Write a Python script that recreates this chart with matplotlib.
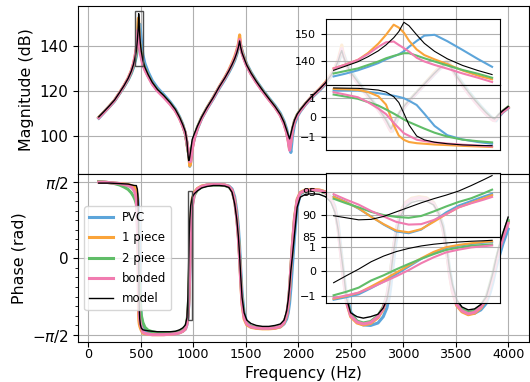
import numpy as np
import matplotlib
matplotlib.use('Agg')
import matplotlib.pyplot as plt
from matplotlib.patches import Rectangle
from matplotlib.ticker import MultipleLocator

# ---------------- data ----------------
freq = [100, 150, 200, 250, 300, 340, 380, 410, 430, 445,
        458, 468, 474, 478, 480, 482, 486, 490, 496, 505,
        520, 540, 570, 610, 660, 720, 780, 830, 870, 900,
        925, 940, 950, 957, 962, 967, 975, 990, 1010, 1040,
        1080, 1130, 1190, 1250, 1300, 1340, 1370, 1395, 1415, 1430,
        1442, 1452, 1465, 1485, 1510, 1550, 1600, 1660, 1720, 1780,
        1830, 1865, 1890, 1905, 1918, 1930, 1945, 1965, 1990, 2020,
        2070, 2130, 2200, 2260, 2310, 2350, 2380, 2400, 2415, 2430,
        2460, 2500, 2560, 2620, 2690, 2760, 2810, 2845, 2870, 2884,
        2900, 2930, 2970, 3020, 3080, 3150, 3220, 3290, 3340, 3380,
        3410, 3425, 3440, 3470, 3510, 3560, 3620, 3680, 3740, 3790,
        3830, 3855, 3870, 3885, 3910, 3950, 4000]

mag_pvc = [107.8, 110.3, 112.8, 115.4, 118.9, 121.8, 124.9, 127.8, 130.4, 133.0,
           135.4, 138.5, 141.0, 142.5, 143.6, 145.3, 148.2, 149.8, 148.0, 142.8,
           136.2, 132.2, 128.5, 124.6, 121.3, 118.3, 115.1, 111.9, 108.4, 105.1,
           101.2, 96.8, 93.8, 91.6, 89.3, 86.3, 88.0, 94.6, 98.5, 103.0,
           107.6, 111.8, 116.4, 121.3, 125.0, 128.3, 131.0, 133.6, 136.3, 138.9,
           141.5, 140.5, 138.0, 135.2, 132.0, 128.4, 124.6, 120.6, 116.9, 113.4,
           110.0, 106.5, 103.0, 99.8, 96.0, 92.5, 99.5, 105.0, 108.4, 110.8,
           113.9, 117.0, 120.1, 123.0, 126.2, 129.2, 132.2, 134.8, 136.5, 137.0,
           133.0, 129.2, 125.0, 121.2, 116.8, 112.6, 109.2, 106.6, 104.3, 103.0,
           102.0, 105.5, 109.5, 113.0, 116.4, 120.0, 123.5, 127.0, 129.4, 131.0,
           132.0, 132.5, 132.2, 130.2, 127.2, 123.8, 120.0, 116.5, 113.2, 110.7,
           108.8, 107.8, 107.2, 106.6, 108.4, 110.5, 112.3]
mag_1piece = [108.2, 110.6, 113.1, 115.8, 119.3, 122.3, 125.7, 129.0, 132.0, 135.3,
              138.8, 144.5, 150.8, 152.5, 150.6, 147.6, 143.5, 141.6, 139.1, 135.9,
              132.5, 129.8, 126.8, 123.3, 120.2, 117.4, 114.3, 111.2, 107.8, 104.5,
              101.0, 96.5, 93.5, 91.8, 89.0, 86.5, 87.8, 94.3, 99.0, 103.5,
              108.0, 112.3, 117.0, 122.0, 125.9, 129.4, 132.5, 135.3, 138.2, 141.0,
              145.0, 140.5, 137.4, 134.6, 131.4, 127.8, 124.0, 120.0, 116.3, 112.7,
              109.2, 105.5, 101.5, 98.0, 94.0, 97.5, 102.5, 106.5, 109.2, 111.3,
              114.3, 117.5, 120.7, 123.8, 127.2, 130.6, 134.0, 137.5, 140.5, 136.5,
              131.8, 128.0, 124.0, 120.3, 116.0, 111.8, 108.4, 105.5, 103.0, 101.8,
              103.8, 107.2, 110.5, 113.6, 116.9, 120.5, 124.1, 127.8, 130.3, 132.0,
              133.2, 133.5, 132.3, 129.6, 126.3, 122.8, 119.0, 115.5, 112.2, 109.7,
              107.9, 107.0, 106.7, 107.5, 109.0, 110.8, 112.6]
mag_2piece = [108.1, 110.6, 113.1, 115.7, 119.1, 122.0, 125.2, 128.3, 131.0, 133.7,
              136.8, 139.2, 141.4, 142.4, 142.9, 142.9, 141.6, 140.4, 138.6, 136.2,
              132.5, 129.8, 126.8, 123.4, 120.3, 117.5, 114.4, 111.3, 107.9, 104.7,
              100.8, 96.5, 93.5, 91.8, 90.4, 89.5, 90.4, 95.5, 99.5, 103.8,
              108.1, 112.3, 116.9, 121.8, 125.5, 128.8, 131.6, 134.2, 137.0, 139.6,
              142.0, 140.0, 137.2, 134.3, 131.3, 127.8, 124.1, 120.1, 116.4, 112.8,
              109.3, 105.6, 101.8, 98.5, 94.5, 97.8, 102.8, 106.6, 109.3, 111.4,
              114.3, 117.4, 120.5, 123.4, 126.6, 129.7, 132.9, 135.8, 137.5, 136.0,
              131.8, 128.2, 124.3, 120.6, 116.3, 112.1, 108.7, 105.9, 103.6, 102.5,
              104.3, 107.4, 110.6, 113.7, 116.9, 120.4, 123.9, 127.4, 129.7, 131.2,
              132.1, 132.5, 131.8, 129.4, 126.4, 123.1, 119.4, 115.9, 112.6, 110.1,
              108.3, 107.5, 107.1, 107.8, 109.3, 111.0, 112.8]
mag_bonded = [108.0, 110.5, 113.0, 115.7, 119.2, 122.2, 125.5, 128.8, 131.9, 135.2,
              139.1, 144.0, 147.2, 146.0, 144.8, 143.5, 140.7, 139.1, 136.6, 134.8,
              131.6, 129.2, 126.4, 123.0, 119.9, 117.1, 114.0, 111.0, 107.6, 104.3,
              101.0, 96.8, 94.0, 92.4, 90.4, 88.4, 88.5, 93.9, 98.8, 103.4,
              107.8, 112.1, 116.8, 121.8, 125.6, 129.0, 131.9, 134.6, 137.5, 140.2,
              143.0, 139.6, 136.8, 134.0, 131.0, 127.5, 123.8, 119.8, 116.1, 112.6,
              109.0, 105.2, 101.3, 97.5, 93.5, 97.0, 102.3, 106.3, 109.0, 111.2,
              114.2, 117.4, 120.5, 123.5, 126.8, 130.0, 133.4, 136.6, 139.0, 135.8,
              131.3, 127.6, 123.7, 120.0, 115.8, 111.6, 108.2, 105.3, 103.0, 102.0,
              103.8, 107.0, 110.3, 113.4, 116.6, 120.2, 123.7, 127.3, 129.7, 131.4,
              132.5, 132.8, 131.8, 129.2, 126.0, 122.6, 118.8, 115.3, 112.0, 109.5,
              107.7, 106.9, 106.7, 107.5, 109.0, 110.8, 112.5]
mag_model = [108.4, 110.8, 113.3, 115.9, 119.4, 122.3, 125.6, 128.8, 131.7, 134.8,
             137.8, 142.8, 146.7, 151.0, 154.5, 153.2, 148.8, 145.0, 141.3, 137.7,
             133.7, 130.5, 127.3, 123.8, 120.6, 117.9, 114.8, 111.7, 108.2, 105.0,
             101.8, 97.5, 91.5, 88.9, 89.2, 90.6, 93.2, 98.3, 100.8, 104.3,
             108.3, 112.5, 117.0, 122.0, 125.7, 129.0, 131.8, 134.4, 137.0, 139.5,
             142.3, 139.5, 137.0, 134.5, 131.5, 128.0, 124.3, 120.3, 116.6, 113.0,
             109.5, 106.0, 102.5, 100.3, 98.6, 100.8, 103.8, 107.0, 109.6, 111.6,
             114.5, 117.6, 120.7, 123.6, 126.8, 130.0, 133.2, 136.3, 138.0, 135.5,
             131.8, 128.3, 124.5, 120.8, 116.5, 112.3, 109.0, 106.3, 104.0, 103.0,
             104.5, 107.6, 110.8, 113.8, 117.0, 120.5, 124.0, 127.5, 129.8, 131.3,
             132.3, 132.6, 131.8, 129.5, 126.5, 123.2, 119.5, 116.0, 112.8, 110.3,
             108.6, 107.8, 107.5, 108.2, 109.5, 111.2, 113.0]

ph_pvc = [1.58, 1.57, 1.56, 1.55, 1.54, 1.52, 1.50, 1.47, 1.43, 1.39,
          1.37, 1.30, 1.18, 1.05, 0.98, 0.85, 0.50, -0.05, -0.85, -1.20,
          -1.41, -1.48, -1.53, -1.55, -1.56, -1.56, -1.56, -1.55, -1.53, -1.50,
          -1.46, -1.37, -1.20, -0.97, -0.70, -0.28, 0.38, 1.19, 1.35, 1.43,
          1.48, 1.51, 1.52, 1.52, 1.51, 1.49, 1.43, 1.27, 0.98, 0.65,
          0.25, -0.20, -0.70, -1.12, -1.32, -1.40, -1.43, -1.44, -1.44, -1.43,
          -1.41, -1.35, -1.25, -1.12, -0.92, -0.62, -0.15, 0.45, 1.05, 1.32,
          1.40, 1.41, 1.40, 1.37, 1.27, 1.07, 0.75, 0.35, 0.05, -0.25,
          -0.75, -1.10, -1.30, -1.37, -1.38, -1.33, -1.20, -1.02, -0.78, -0.55,
          -0.25, 0.30, 0.80, 1.10, 1.22, 1.26, 1.24, 1.15, 0.95, 0.68,
          0.32, 0.08, -0.18, -0.55, -0.88, -1.05, -1.13, -1.13, -1.06, -0.93,
          -0.70, -0.50, -0.35, -0.20, 0.00, 0.30, 0.60]
ph_1piece = [1.58, 1.57, 1.56, 1.55, 1.54, 1.53, 1.52, 1.50, 1.48, 1.46,
             1.43, 1.20, 0.40, -0.95, -1.17, -1.28, -1.35, -1.39, -1.43, -1.48,
             -1.54, -1.55, -1.56, -1.57, -1.57, -1.57, -1.56, -1.55, -1.53, -1.50,
             -1.45, -1.33, -1.15, -0.90, -0.55, -0.05, 0.70, 1.22, 1.36, 1.44,
             1.49, 1.51, 1.52, 1.52, 1.51, 1.48, 1.40, 1.20, 0.85, 0.45,
             0.00, -0.45, -0.95, -1.25, -1.37, -1.42, -1.44, -1.45, -1.45, -1.44,
             -1.41, -1.33, -1.18, -0.98, -0.65, -0.20, 0.30, 0.85, 1.22, 1.36,
             1.41, 1.42, 1.41, 1.37, 1.25, 1.02, 0.62, 0.20, -0.10, -0.40,
             -0.90, -1.20, -1.33, -1.37, -1.34, -1.22, -1.05, -0.80, -0.45, -0.20,
             0.10, 0.55, 0.95, 1.15, 1.24, 1.27, 1.25, 1.15, 0.92, 0.60,
             0.20, -0.05, -0.32, -0.70, -0.97, -1.10, -1.16, -1.13, -1.02, -0.85,
             -0.55, -0.35, -0.20, -0.05, 0.15, 0.45, 0.75]
ph_2piece = [1.58, 1.57, 1.56, 1.54, 1.51, 1.47, 1.42, 1.35, 1.28, 1.21,
             1.12, 0.72, 0.36, 0.04, -0.12, -0.25, -0.50, -0.73, -0.98, -1.17,
             -1.32, -1.42, -1.48, -1.51, -1.53, -1.53, -1.53, -1.52, -1.50, -1.47,
             -1.42, -1.30, -1.10, -0.80, -0.43, -0.05, 0.50, 1.09, 1.30, 1.41,
             1.47, 1.50, 1.51, 1.51, 1.50, 1.47, 1.39, 1.18, 0.84, 0.47,
             0.05, -0.38, -0.85, -1.18, -1.33, -1.40, -1.42, -1.43, -1.43, -1.42,
             -1.39, -1.31, -1.15, -0.95, -0.62, -0.22, 0.25, 0.80, 1.18, 1.34,
             1.39, 1.40, 1.39, 1.35, 1.23, 1.00, 0.62, 0.22, -0.06, -0.35,
             -0.85, -1.15, -1.29, -1.33, -1.30, -1.18, -1.00, -0.75, -0.42, -0.17,
             0.12, 0.55, 0.93, 1.13, 1.22, 1.25, 1.23, 1.13, 0.90, 0.60,
             0.23, 0.00, -0.27, -0.63, -0.92, -1.05, -1.11, -1.08, -0.97, -0.80,
             -0.50, -0.30, -0.16, -0.02, 0.18, 0.48, 0.78]
ph_bonded = [1.57, 1.57, 1.56, 1.55, 1.54, 1.52, 1.50, 1.47, 1.42, 1.35,
             1.20, 0.60, 0.16, -0.56, -0.83, -0.96, -1.19, -1.26, -1.34, -1.42,
             -1.52, -1.54, -1.56, -1.57, -1.57, -1.57, -1.56, -1.55, -1.53, -1.50,
             -1.45, -1.35, -1.18, -0.95, -0.65, -0.25, 0.45, 1.05, 1.33, 1.43,
             1.48, 1.51, 1.52, 1.52, 1.51, 1.48, 1.40, 1.18, 0.82, 0.42,
             -0.02, -0.45, -0.92, -1.22, -1.35, -1.41, -1.43, -1.44, -1.44, -1.43,
             -1.40, -1.32, -1.16, -0.95, -0.62, -0.20, 0.28, 0.82, 1.20, 1.35,
             1.40, 1.41, 1.40, 1.36, 1.24, 1.00, 0.60, 0.18, -0.12, -0.42,
             -0.90, -1.18, -1.31, -1.35, -1.32, -1.20, -1.03, -0.78, -0.45, -0.20,
             0.10, 0.53, 0.92, 1.13, 1.22, 1.25, 1.23, 1.13, 0.90, 0.58,
             0.20, -0.05, -0.32, -0.68, -0.95, -1.08, -1.14, -1.11, -1.00, -0.83,
             -0.55, -0.36, -0.22, -0.07, 0.13, 0.42, 0.72]
ph_model = [1.55, 1.55, 1.55, 1.545, 1.54, 1.535, 1.53, 1.515, 1.505, 1.50,
            1.50, 1.42, 1.24, 0.76, 0.20, -0.40, -1.04, -1.24, -1.36, -1.435,
            -1.47, -1.48, -1.49, -1.50, -1.51, -1.51, -1.51, -1.50, -1.47, -1.43,
            -1.37, -1.22, -0.75, 0.00, 0.49, 0.80, 1.08, 1.26, 1.33, 1.39,
            1.45, 1.48, 1.50, 1.50, 1.49, 1.46, 1.36, 1.12, 0.80, 0.45,
            0.05, -0.35, -0.80, -1.12, -1.27, -1.34, -1.38, -1.40, -1.40, -1.38,
            -1.35, -1.27, -1.08, -0.85, -0.57, -0.25, 0.05, 0.50, 1.05, 1.26,
            1.32, 1.33, 1.32, 1.27, 1.16, 0.95, 0.60, 0.25, 0.00, -0.25,
            -0.82, -1.12, -1.20, -1.23, -1.20, -1.15, -1.02, -0.85, -0.55, -0.30,
            0.00, 0.45, 0.85, 1.05, 1.15, 1.19, 1.18, 1.10, 0.92, 0.65,
            0.30, 0.05, -0.20, -0.55, -0.85, -1.00, -1.06, -1.04, -0.95, -0.80,
            -0.50, -0.30, -0.15, 0.00, 0.22, 0.52, 0.85]

# zoom around the first resonance
z1_freq = [452.5, 457, 462, 466, 470, 473, 476, 478, 480, 482, 485, 488, 492, 497, 503, 509, 514.5]
z1_mag_pvc = [134.2, 135.2, 136.5, 137.8, 139.2, 140.6, 141.7, 142.5, 143.6, 145.3, 147.5, 149.5, 149.8, 147.4, 144.1, 140.7, 137.8]
z1_mag_1piece = [137.2, 138.6, 140.4, 143.0, 146.5, 149.8, 153.6, 152.5, 150.6, 147.6, 144.3, 142.2, 140.6, 138.8, 136.4, 134.5, 133.1]
z1_mag_2piece = [135.3, 136.2, 137.2, 138.5, 139.8, 141.0, 141.9, 142.4, 142.9, 142.9, 142.0, 141.0, 139.8, 138.3, 136.6, 135.2, 133.7]
z1_mag_bonded = [137.2, 138.6, 140.4, 142.6, 145.3, 147.0, 147.3, 146.0, 144.8, 143.5, 141.2, 139.8, 138.5, 137.1, 135.3, 133.7, 132.1]
z1_mag_model = [136.5, 138.0, 139.7, 141.6, 143.8, 146.0, 148.7, 151.0, 154.5, 153.2, 149.8, 146.6, 143.6, 140.8, 138.3, 136.4, 134.9]
z1_ph_pvc = [1.37, 1.37, 1.37, 1.31, 1.24, 1.18, 1.11, 1.05, 0.98, 0.85, 0.63, 0.18, -0.45, -0.93, -1.15, -1.28, -1.37]
z1_ph_1piece = [1.46, 1.44, 1.41, 1.30, 1.08, 0.65, -0.40, -0.95, -1.17, -1.28, -1.34, -1.37, -1.41, -1.44, -1.48, -1.51, -1.54]
z1_ph_2piece = [1.17, 1.07, 0.95, 0.78, 0.60, 0.40, 0.19, 0.04, -0.12, -0.25, -0.42, -0.59, -0.80, -1.00, -1.16, -1.24, -1.30]
z1_ph_bonded = [1.29, 1.17, 1.03, 0.77, 0.45, 0.16, -0.29, -0.56, -0.83, -0.96, -1.16, -1.23, -1.30, -1.36, -1.42, -1.46, -1.51]
z1_ph_model = [1.51, 1.50, 1.49, 1.45, 1.40, 1.30, 1.06, 0.76, 0.20, -0.40, -0.97, -1.17, -1.29, -1.37, -1.43, -1.46, -1.47]

# zoom around the first anti-resonance
z2_freq = [952, 955, 958, 961, 964, 967, 970, 973, 976, 979, 982, 985, 988, 990]
z2_mag_pvc = [94.0, 92.8, 91.3, 89.6, 87.8, 86.3, 85.9, 86.7, 88.6, 90.5, 92.0, 93.0, 94.0, 94.6]
z2_mag_1piece = [93.9, 92.7, 91.4, 89.5, 87.9, 86.5, 86.1, 86.8, 88.4, 90.1, 91.6, 92.6, 93.6, 94.3]
z2_mag_2piece = [93.5, 92.5, 91.6, 90.6, 89.9, 89.5, 89.3, 89.7, 90.7, 91.8, 92.8, 93.6, 94.7, 95.5]
z2_mag_bonded = [94.5, 93.3, 92.2, 90.8, 89.6, 88.4, 87.8, 87.9, 88.8, 90.1, 91.6, 92.5, 93.3, 93.9]
z2_mag_model = [89.75, 89.3, 88.85, 88.95, 89.6, 90.6, 91.6, 92.6, 93.5, 94.3, 95.2, 96.4, 97.7, 98.6]
z2_ph_pvc = [-1.15, -1.05, -0.93, -0.68, -0.41, -0.12, 0.19, 0.50, 0.76, 0.95, 1.04, 1.11, 1.16, 1.19]
z2_ph_1piece = [-1.11, -1.00, -0.87, -0.61, -0.34, -0.05, 0.24, 0.53, 0.79, 0.98, 1.07, 1.14, 1.19, 1.22]
z2_ph_2piece = [-0.97, -0.83, -0.66, -0.37, -0.16, 0.08, 0.30, 0.51, 0.70, 0.87, 0.96, 1.04, 1.07, 1.09]
z2_ph_bonded = [-1.08, -0.98, -0.86, -0.66, -0.43, -0.20, 0.05, 0.33, 0.57, 0.77, 0.88, 0.97, 1.02, 1.05]
z2_ph_model = [-0.46, -0.18, 0.09, 0.39, 0.62, 0.80, 0.93, 1.03, 1.10, 1.15, 1.19, 1.22, 1.24, 1.26]

labels = ['PVC', '1 piece', '2 piece', 'bonded', 'model']
colors = ['#5DA5DA', '#FAA43A', '#60BD68', '#F17CB0', '#000000']

main_mag = [mag_pvc, mag_1piece, mag_2piece, mag_bonded, mag_model]
main_ph = [ph_pvc, ph_1piece, ph_2piece, ph_bonded, ph_model]
z1_mag = [z1_mag_pvc, z1_mag_1piece, z1_mag_2piece, z1_mag_bonded, z1_mag_model]
z1_ph = [z1_ph_pvc, z1_ph_1piece, z1_ph_2piece, z1_ph_bonded, z1_ph_model]
z2_mag = [z2_mag_pvc, z2_mag_1piece, z2_mag_2piece, z2_mag_bonded, z2_mag_model]
z2_ph = [z2_ph_pvc, z2_ph_1piece, z2_ph_2piece, z2_ph_bonded, z2_ph_model]

# ---------------- figure ----------------
W, H = 530, 382
fig = plt.figure(figsize=(W / 100, H / 100), dpi=100)


def px_axes(x0, y0, x1, y1, **kw):
    return fig.add_axes([x0 / W, 1 - y1 / H, (x1 - x0) / W, (y1 - y0) / H], **kw)


ax_m = px_axes(78.3, 6, 528.6, 174)
ax_p = px_axes(78.3, 174, 528.6, 342.3, sharex=ax_m)

for i in range(5):
    lw = 1.0 if i == 4 else 2.2
    ax_m.plot(freq, main_mag[i], color=colors[i], lw=lw)
    ax_p.plot(freq, main_ph[i], color=colors[i], lw=lw, label=labels[i])

ax_m.yaxis.set_major_locator(MultipleLocator(20))
ax_m.tick_params(axis='x', labelbottom=False)
ax_m.tick_params(axis='y', labelsize=11)
ax_m.set_ylabel('Magnitude (dB)', fontsize=11.4)
ax_m.grid(True)

ax_p.set_yticks([-np.pi / 2, 0, np.pi / 2])
ax_p.set_yticklabels([r'$-\pi/2$', '0', r'$\pi/2$'])
ax_p.yaxis.set_minor_locator(MultipleLocator(np.pi / 16))
ax_p.xaxis.set_major_locator(MultipleLocator(500))
ax_p.tick_params(axis='y', labelsize=11)
ax_p.tick_params(axis='x', labelsize=9.2, pad=0.5)
ax_p.set_ylabel('Phase (rad)', fontsize=11.4)
ax_p.set_xlabel('Frequency (Hz)', fontsize=11.2, labelpad=4)
ax_p.grid(True)
ax_p.legend(loc='center left', fontsize=8.5, labelspacing=0.62)

ax_m.get_xlim(); ax_m.get_ylim(); ax_p.get_ylim()

# insets
IX0, IX1 = 325.7, 500.0
ins_specs = [
    (ax_m, IX0, 19.3, IX1, 85.0, z1_freq, z1_mag, [140, 150]),
    (ax_m, IX0, 85.0, IX1, 150.0, z1_freq, z1_ph, [-1, 0, 1]),
    (ax_p, IX0, 172.7, IX1, 237.3, z2_freq, z2_mag, [85, 90, 95]),
    (ax_p, IX0, 237.3, IX1, 302.7, z2_freq, z2_ph, [-1, 0, 1]),
]

inv = ax_m.transData.inverted()
main_x0 = inv.transform((IX0, 0))[0]
main_x1 = inv.transform((IX1, 0))[0]
grid_vals = [2500, 3000, 3500]

for parent, x0, y0, x1, y1, zf, zdata, yt in ins_specs:
    ins = px_axes(x0, y0, x1, y1)
    ins.set_facecolor((1, 1, 1, 0.82))
    for i in range(5):
        lw = 0.8 if i == 4 else 1.5
        ins.plot(zf, zdata[i], color=colors[i], lw=lw)
    ins.set_yticks(yt)
    ins.tick_params(labelsize=8)
    a, b = ins.get_xlim()
    lo, hi = ins.get_ylim()
    xt = [a + (g - main_x0) / (main_x1 - main_x0) * (b - a) for g in grid_vals]
    ins.set_xticks(xt)
    ins.set_xlim(a, b)
    ins.tick_params(axis='x', length=0, labelbottom=False)
    ins.grid(True)
    parent.add_patch(Rectangle((a, lo), b - a, hi - lo, fill=False,
                               ec='0.3', lw=1.0, zorder=4))

fig.savefig('out.png', dpi=100)
